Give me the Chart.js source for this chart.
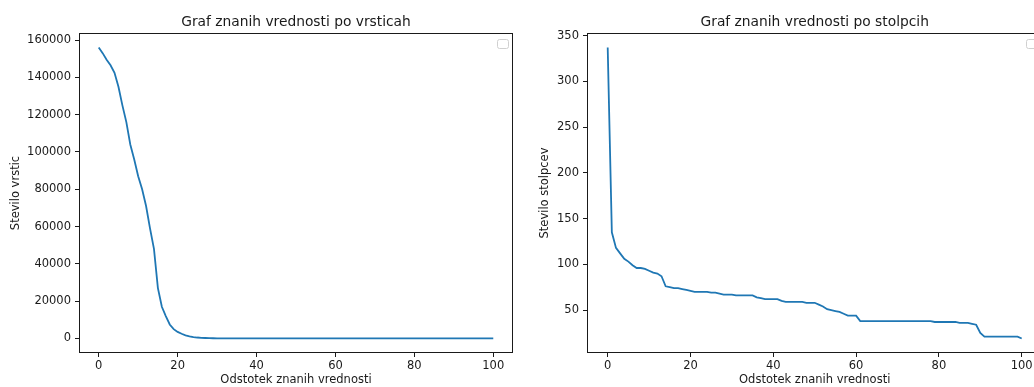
<!DOCTYPE html>
<html>
<head>
<meta charset="utf-8">
<script src="https://cdn.jsdelivr.net/npm/chart.js@4"></script>
<style>
  html, body { margin: 0; padding: 0; background: #fff; width: 1034px; height: 387px; overflow: hidden; }
  .okvir { position: absolute; top: 0; height: 387px; }
  #levo { left: 0; width: 517px; }
  #desno { left: 520px; width: 560px; }
</style>
</head>
<body>
<div class="okvir" id="levo"><canvas id="grafVrstice"></canvas></div>
<div class="okvir" id="desno"><canvas id="grafStolpci"></canvas></div>
<script>
// Odstotek znanih vrednosti (os x), skupen za oba grafa
const odstotki = [
  0, 1, 2, 3, 4, 5, 6, 7, 8, 9, 10, 11, 12, 13, 14, 15, 16, 17, 18, 19,
  20, 21, 22, 23, 24, 25, 26, 27, 28, 29, 30, 31, 32, 33, 34, 35, 36, 37, 38, 39,
  40, 41, 42, 43, 44, 45, 46, 47, 48, 49, 50, 51, 52, 53, 54, 55, 56, 57, 58, 59,
  60, 61, 62, 63, 64, 65, 66, 67, 68, 69, 70, 71, 72, 73, 74, 75, 76, 77, 78, 79,
  80, 81, 82, 83, 84, 85, 86, 87, 88, 89, 90, 91, 92, 93, 94, 95, 96, 97, 98, 99,
  100,
];

// Stevilo vrstic pri danem odstotku
const steviloVrstic = [
  156000, 153000, 149500, 146500, 142500, 135000, 125000, 116000, 104000, 96000,
  87000, 80000, 71000, 59000, 48000, 27000, 17000, 12000, 7500, 5000,
  3500, 2500, 1700, 1100, 700, 500, 350, 250, 170, 120,
  90, 70, 55, 45, 38, 32, 28, 24, 21, 18,
  16, 14, 13, 12, 11, 10, 9, 9, 8, 8,
  7, 7, 6, 6, 6, 5, 5, 5, 4, 4,
  4, 4, 3, 3, 3, 3, 3, 2, 2, 2,
  2, 2, 2, 2, 1, 1, 1, 1, 1, 1,
  1, 1, 1, 1, 1, 1, 1, 1, 1, 1,
  1, 1, 1, 0, 0, 0, 0, 0, 0, 0,
  0,
];

// Stevilo stolpcev pri danem odstotku
const steviloStolpcev = [
  337, 135, 118, 112, 106, 103, 99, 96, 96, 95,
  93, 91, 90, 87, 76, 75, 74, 74, 73, 72,
  71, 70, 70, 70, 70, 69, 69, 68, 67, 67,
  67, 66, 66, 66, 66, 66, 64, 63, 62, 62,
  62, 62, 60, 59, 59, 59, 59, 59, 58, 58,
  58, 56, 54, 51, 50, 49, 48, 46, 44, 44,
  44, 38, 38, 38, 38, 38, 38, 38, 38, 38,
  38, 38, 38, 38, 38, 38, 38, 38, 38, 37,
  37, 37, 37, 37, 37, 36, 36, 36, 35, 34,
  25, 21, 21, 21, 21, 21, 21, 21, 21, 21,
  19,
];

const xOznake = [0, 20, 40, 60, 80, 100];
const yOznakeVrstice = [0, 20000, 40000, 60000, 80000, 100000, 120000, 140000, 160000];
const yOznakeStolpci = [50, 100, 150, 200, 250, 300, 350];

const CRNA = '#1a1a1a';
Chart.defaults.font.family = '"DejaVu Sans", sans-serif';
Chart.defaults.font.size = 11.5;
Chart.defaults.color = CRNA;

// matplotlib-ov okvir: vse štiri stranice, naslov nad osmi in prazna legenda
const okvirPlugin = {
  id: 'okvir',
  afterDraw(chart, args, opts) {
    const { ctx, chartArea: a } = chart;
    ctx.save();
    ctx.strokeStyle = CRNA;
    ctx.lineWidth = 1;
    const l = Math.round(a.left) + 0.5, t = Math.round(a.top) + 0.5;
    const r = Math.round(a.right) - 0.5, b = Math.round(a.bottom) - 0.5;
    ctx.strokeRect(l, t, r - l, b - t);

    // prazna legenda (brez oznak)
    ctx.strokeStyle = '#d0d0d0';
    ctx.fillStyle = '#fff';
    ctx.beginPath();
    ctx.roundRect(Math.round(a.right) - 15.5, Math.round(a.top) + 6.5, 11, 9, 2);
    ctx.fill();
    ctx.stroke();

    ctx.fillStyle = CRNA;
    ctx.font = '13.8px "DejaVu Sans", sans-serif';
    ctx.textAlign = 'center';
    ctx.textBaseline = 'alphabetic';
    ctx.fillText(opts.naslov, (a.left + a.right) / 2, 26);
    ctx.restore();
  },
};

function narisi(canvasId, naslov, yVrednosti, yOznake, yNaslov, yMeje, sirinaY, odmikDesno, odmikNaslovaY) {
  const tocke = odstotki.map((x, i) => ({ x, y: yVrednosti[i] }));
  return new Chart(document.getElementById(canvasId), {
    type: 'line',
    data: {
      datasets: [{
        data: tocke,
        borderColor: '#1f77b4',
        borderWidth: 1.8,
        pointRadius: 0,
        tension: 0,
        fill: false,
      }],
    },
    options: {
      responsive: true,
      maintainAspectRatio: false,
      animation: false,
      layout: { padding: { top: 33, right: odmikDesno, left: 0, bottom: 0 } },
      plugins: {
        legend: { display: false },
        tooltip: { enabled: false },
        okvir: { naslov },
      },
      scales: {
        x: {
          type: 'linear',
          min: -5,
          max: 105,
          afterBuildTicks: (s) => { s.ticks = xOznake.map((v) => ({ value: v })); },
          afterFit: (s) => { s.height = 34; },
          grid: { drawOnChartArea: false, drawTicks: true, tickLength: 4, color: CRNA },
          border: { display: false },
          ticks: { padding: 2, maxRotation: 0, callback: (v) => String(v) },
          title: { display: true, text: 'Odstotek znanih vrednosti', padding: { top: 0, bottom: 0 } },
        },
        y: {
          type: 'linear',
          min: yMeje[0],
          max: yMeje[1],
          afterBuildTicks: (s) => { s.ticks = yOznake.map((v) => ({ value: v })); },
          afterFit: (s) => { s.width = sirinaY; },
          grid: { drawOnChartArea: false, drawTicks: true, tickLength: 4, color: CRNA },
          border: { display: false },
          ticks: { padding: 4, callback: (v) => String(v) },
          title: { display: true, text: yNaslov, padding: { top: odmikNaslovaY, bottom: 0 } },
        },
      },
    },
    plugins: [okvirPlugin],
  });
}

narisi('grafVrstice', 'Graf znanih vrednosti po vrsticah', steviloVrstic, yOznakeVrstice,
  'Stevilo vrstic', [-7800, 163800], 79, 4, 9);
narisi('grafStolpci', 'Graf znanih vrednosti po stolpcih', steviloStolpcev, yOznakeStolpci,
  'Stevilo stolpcev', [3.1, 352.9], 67, 37.6, 18.4);
</script>
</body>
</html>
